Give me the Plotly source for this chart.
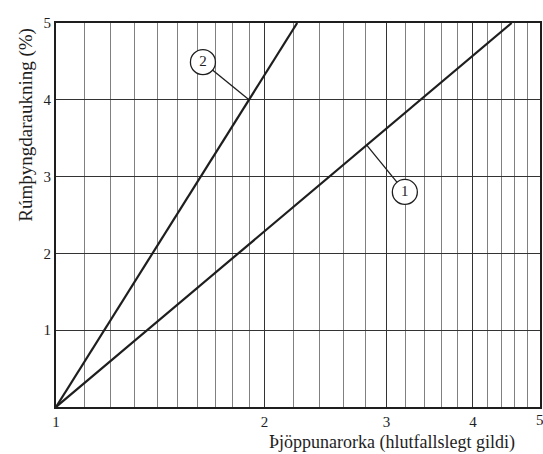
import numpy as np
import plotly.graph_objects as go

# Curves: density increase vs. relative compaction energy (straight on a log-x scale)
energy_1 = [1.0, 4.55]
density_1 = [0.0, 5.0]
energy_2 = [1.0, 2.23]
density_2 = [0.0, 5.0]

# Numbered callouts and their leader lines
callout_labels = ["1", "2"]
callout_x = [3.19, 1.63]
callout_y = [2.80, 4.49]
leader_1_x = [2.81, 3.19]
leader_1_y = [3.41, 2.80]
leader_2_x = [1.90, 1.63]
leader_2_y = [4.00, 4.49]

# Axis ticks and grid
x_ticks = [1, 2, 3, 4]
x_edge_tick = 5
x_minor = [round(v, 1) for v in list(np.arange(1.1, 2.0, 0.1)) + list(np.arange(2.2, 5.0, 0.2))]
y_ticks = [1, 2, 3, 4, 5]

x_title = "Þjöppunarorka (hlutfallslegt gildi)"
y_title = "Rúmþyngdaraukning (%)"

serif = "Liberation Serif, Times New Roman, serif"
ink = "#1e1e1e"

fig = go.Figure()

for ex, dy in [(energy_1, density_1), (energy_2, density_2)]:
    fig.add_trace(go.Scatter(x=ex, y=dy, mode="lines",
                             line=dict(color=ink, width=2.2), showlegend=False,
                             hoverinfo="skip"))

for lx, ly in [(leader_1_x, leader_1_y), (leader_2_x, leader_2_y)]:
    fig.add_trace(go.Scatter(x=lx, y=ly, mode="lines",
                             line=dict(color=ink, width=1.3), showlegend=False,
                             hoverinfo="skip"))

fig.add_trace(go.Scatter(
    x=callout_x, y=callout_y, mode="markers+text", text=callout_labels,
    textposition="middle center",
    textfont=dict(family=serif, size=15, color=ink),
    marker=dict(symbol="circle", size=25, color="white",
                line=dict(color=ink, width=1.3)),
    showlegend=False, hoverinfo="skip", cliponaxis=False))

fig.update_xaxes(
    type="log", range=[0, np.log10(5)],
    tickvals=x_ticks, ticktext=[str(v) for v in x_ticks],
    ticks="", showline=True, linecolor=ink, linewidth=2, mirror=True,
    showgrid=True, gridcolor="#333333", gridwidth=1.2,
    minor=dict(tickvals=x_minor, showgrid=True, gridcolor="#808080",
               gridwidth=1, ticks=""),
    tickfont=dict(family=serif, size=15, color=ink),
    zeroline=False,
)
fig.update_yaxes(
    range=[0, 5], tickvals=y_ticks, ticktext=[str(v) for v in y_ticks],
    ticks="", showline=True, linecolor=ink, linewidth=2, mirror=True,
    showgrid=True, gridcolor="#333333", gridwidth=1.2,
    tickfont=dict(family=serif, size=15, color=ink),
    zeroline=False,
)

# tick label at the right edge of the log axis (annotation x is in log10 units)
fig.add_annotation(text=str(x_edge_tick), x=np.log10(x_edge_tick), y=0,
                   xref="x", yref="paper", yanchor="top", yshift=-3,
                   showarrow=False,
                   font=dict(family=serif, size=15, color=ink))

fig.add_annotation(text=x_title, x=0.694, y=-0.06, xref="paper", yref="paper",
                   xanchor="center", yanchor="top", showarrow=False,
                   font=dict(family=serif, size=18, color=ink))
fig.add_annotation(text=y_title, x=-0.062, y=0.735, xref="paper", yref="paper",
                   xanchor="center", yanchor="middle", textangle=-90,
                   showarrow=False,
                   font=dict(family=serif, size=19, color=ink))

fig.update_layout(
    width=543, height=454,
    margin=dict(l=56, r=1, t=23, b=47),
    paper_bgcolor="white", plot_bgcolor="white",
)

fig.write_html("out.html")
